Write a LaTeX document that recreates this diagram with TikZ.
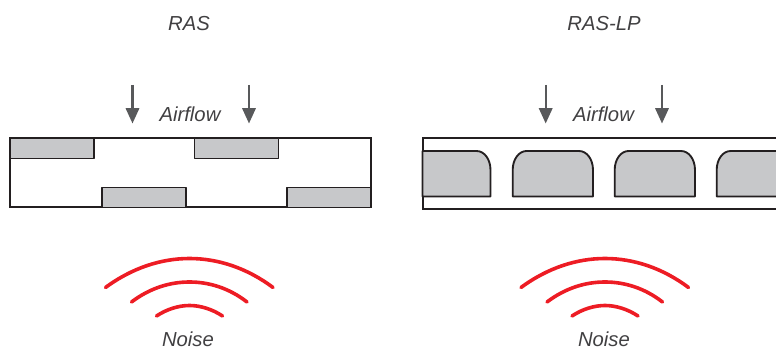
\documentclass[tikz,border=0pt]{standalone}
\usepackage{fontspec}
\setmainfont{Liberation Sans}
\usetikzlibrary{arrows.meta}
\definecolor{blockgray}{RGB}{199,200,202}
\definecolor{linedark}{RGB}{35,31,32}
\definecolor{arrowgray}{RGB}{88,89,91}
\definecolor{noisered}{RGB}{237,28,36}
\definecolor{labelgray}{RGB}{65,64,66}
\tikzset{
  x=0.75pt,y=-0.75pt,
  duct/.style={draw=linedark,line width=1.5pt,fill=white},
  block/.style={draw=linedark,line width=1.4pt,fill=blockgray,line join=round},
  flowarrow/.style={draw=arrowgray,line width=1.7pt,-{Triangle[length=11.5pt,width=10pt]}},
  noisearc/.style={draw=noisered,line width=2.7pt,line cap=round},
  label/.style={font=\fontsize{15.2}{18}\selectfont\itshape,text=labelgray,inner sep=0pt,anchor=center}
}
\begin{document}
\begin{tikzpicture}
\useasboundingbox (0,0) rectangle (776,349);
% titles
\node[label] (t1) at (189,24) {RAS};
\node[label] (t2) at (604,24) {RAS-LP};
\node[label] (a1) at (190,114) {Airflow};
\node[label] (a2) at (603.5,114) {Airflow};
\node[label] (n1) at (188,339.5) {Noise};
\node[label] (n2) at (604,339.5) {Noise};
% arrows
\foreach \x/\n in {132.5/a,249/b,545.7/c,662/d}{
  \coordinate (\n s) at (\x,85);
  \coordinate (\n e) at (\x,123.5);
  \draw[flowarrow] (\n s) -- (\n e);
}
% left duct
\draw[duct] (10,138.5) rectangle (371,207.5);
\draw[block] (10,138.5) rectangle (94,158.5);
\draw[block] (194.5,138.5) rectangle (278.5,158.5);
\draw[block] (102,187.5) rectangle (186,207.5);
\draw[block] (287,187.5) rectangle (371,207.5);
% right duct
\begin{scope}
\clip (421,130) rectangle (776,215);
\draw[duct] (422.5,138.5) rectangle (790,209.5);
\draw[block] (422.5,151) -- (476.5,151) .. controls (484.5,151) and (490.5,159.5) .. (490.5,170) -- (490.5,196.5) -- (422.5,196.5) -- cycle;
\foreach \x in {512.7,614.7,716.7}{
  \draw[block] (\x,196.5) -- (\x,170) .. controls (\x,159.5) and (\x+6,151) .. (\x+14,151) -- (\x+66.3,151) .. controls (\x+74.3,151) and (\x+80.3,159.5) .. (\x+80.3,170) -- (\x+80.3,196.5) -- cycle;
}
\end{scope}
% noise arcs
\foreach \d in {0,415.5}{
  \begin{scope}[xshift=\d*0.75pt]
  \draw[noisearc] (105.5,287.5) .. controls (132,268) and (161,258.5) .. (189.5,258.5) .. controls (218,258.5) and (247,268) .. (273,287.5);
  \draw[noisearc] (131.5,302) .. controls (150,288) and (170,282) .. (189.5,282) .. controls (209,282) and (229,288) .. (247,302);
  \draw[noisearc] (156.5,316) .. controls (167,309) and (179,305.5) .. (189.5,305.5) .. controls (200,305.5) and (212,309) .. (222.5,316);
  \end{scope}
}
\end{tikzpicture}
\end{document}
